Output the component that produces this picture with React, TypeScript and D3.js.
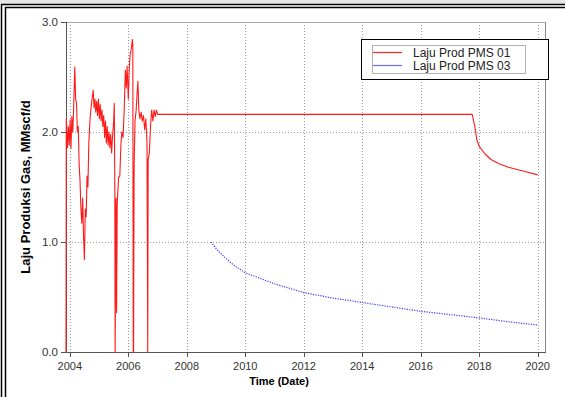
import React from 'react';
import * as d3 from 'd3';

const xTicks = [2004, 2006, 2008, 2010, 2012, 2014, 2016, 2018, 2020];
const yTicks = [0, 1, 2, 3];
const seriesNames = ['Laju Prod PMS 01', 'Laju Prod PMS 03'];

const pms01Years = [
  2003.87, 2003.88, 2003.92, 2003.95, 2003.98, 2004.01, 2004.04, 2004.07, 2004.10, 2004.13,
  2004.17, 2004.20, 2004.23, 2004.26, 2004.29, 2004.32, 2004.35, 2004.38, 2004.41, 2004.44,
  2004.47, 2004.50, 2004.53, 2004.56, 2004.59, 2004.62, 2004.65, 2004.69, 2004.72, 2004.76,
  2004.80, 2004.83, 2004.86, 2004.89, 2004.92, 2004.95, 2004.98, 2005.01, 2005.04, 2005.07,
  2005.10, 2005.13, 2005.16, 2005.19, 2005.22, 2005.25, 2005.28, 2005.31, 2005.34, 2005.37,
  2005.40, 2005.43, 2005.46, 2005.50, 2005.52, 2005.54, 2005.55, 2005.58, 2005.60, 2005.62,
  2005.67, 2005.71, 2005.75, 2005.78, 2005.82, 2005.86, 2005.90, 2005.93, 2005.96, 2006.00,
  2006.03, 2006.06, 2006.10, 2006.14, 2006.155, 2006.17, 2006.18, 2006.20, 2006.23, 2006.27,
  2006.30, 2006.33, 2006.36, 2006.40, 2006.44, 2006.48, 2006.52, 2006.56, 2006.60, 2006.64,
  2006.665, 2006.68, 2006.72, 2006.76, 2006.80, 2006.84, 2006.88, 2006.92, 2006.96, 2007.00,
  2017.76, 2017.85, 2017.92, 2018.00, 2018.20, 2018.40, 2018.70, 2019.00, 2019.50, 2020.00,
];
const pms01Values = [
  0.00, 2.12, 1.86, 2.05, 1.88, 2.11, 1.85, 2.14, 2.00, 2.20,
  2.59, 2.30, 2.26, 2.00, 2.05, 1.70, 1.56, 1.30, 1.17, 1.40,
  1.05, 0.84, 1.30, 1.23, 1.60, 1.50, 1.90, 2.11, 2.20, 2.30,
  2.38, 2.22, 2.30, 2.18, 2.28, 2.15, 2.30, 2.12, 2.25, 2.10,
  2.20, 2.05, 2.15, 1.95, 2.10, 1.90, 2.05, 1.88, 2.00, 1.86,
  1.98, 1.81, 1.95, 2.10, 2.26, 1.50, 0.00, 1.40, 0.36, 1.34,
  1.59, 1.60, 1.90, 2.00, 1.95, 2.20, 2.56, 2.40, 2.60, 2.30,
  2.55, 2.70, 2.75, 2.84, 2.80, 0.00, 0.00, 1.70, 2.10, 2.20,
  2.35, 2.46, 2.20, 2.12, 2.18, 2.10, 2.15, 2.02, 2.12, 1.90,
  0.00, 1.75, 1.81, 2.05, 2.20, 2.10, 2.20, 2.14, 2.20, 2.16,
  2.16, 2.05, 1.93, 1.87, 1.80, 1.75, 1.71, 1.68, 1.645, 1.61,
];

const pms03Years = [2008.83, 2009.03, 2009.3, 2009.6, 2010, 2011, 2012, 2013, 2014, 2015, 2016, 2017, 2018, 2019, 2020];
const pms03Values = [1.0, 0.93, 0.86, 0.79, 0.72, 0.62, 0.54, 0.49, 0.45, 0.41, 0.37, 0.34, 0.31, 0.275, 0.245];

export default function App() {
  const W = 565, H = 397;
  const left = 66, right = 545, top = 22, bottom = 352;
  const x = d3.scaleLinear().domain([2003.87, 2020.25]).range([left, right]);
  const y = d3.scaleLinear().domain([0, 3]).range([bottom, top]);

  const line = d3.line<[number, number]>().x(d => x(d[0])).y(d => y(d[1]));
  const d01 = line(pms01Years.map((t, i) => [t, pms01Values[i]]) as [number, number][]) || '';
  const d03 = line(pms03Years.map((t, i) => [t, pms03Values[i]]) as [number, number][]) || '';

  const font = 'Arial, "Liberation Sans", sans-serif';

  return (
    <svg width={W} height={H} style={{ position: 'absolute', left: 0, top: 0, background: '#fff' }}>
      {/* outer frame */}
      <rect x={0} y={0} width={W} height={4} fill="#e6e6e6" />
      <line x1={1} x2={W} y1={4.5} y2={4.5} stroke="#000" strokeWidth={1.5} />
      <line x1={1.5} x2={1.5} y1={4} y2={H} stroke="#000" strokeWidth={1.5} />
      <line x1={5} x2={W} y1={7.5} y2={7.5} stroke="#000" strokeWidth={1.5} />
      <line x1={5.5} x2={5.5} y1={7} y2={H} stroke="#000" strokeWidth={1.5} />

      {/* gridlines */}
      {xTicks.map(t => (
        <line key={'gx' + t} x1={Math.round(x(t)) + 0.5} x2={Math.round(x(t)) + 0.5} y1={top} y2={bottom}
          stroke="#9a9a9a" strokeWidth={1} strokeDasharray="1,2" />
      ))}
      {yTicks.filter(v => v > 0 && v < 3).map(v => (
        <line key={'gy' + v} x1={left} x2={right} y1={Math.round(y(v)) + 0.5} y2={Math.round(y(v)) + 0.5}
          stroke="#9a9a9a" strokeWidth={1} strokeDasharray="1,2" />
      ))}

      {/* plot box */}
      <line x1={left} x2={right} y1={top + 0.5} y2={top + 0.5} stroke="#aaa" />
      <line x1={right + 0.5} x2={right + 0.5} y1={top} y2={bottom} stroke="#888" />
      <line x1={left + 0.5} x2={left + 0.5} y1={top} y2={bottom + 1} stroke="#555" />
      <line x1={left} x2={right + 1} y1={bottom + 0.5} y2={bottom + 0.5} stroke="#555" />

      {/* series */}
      <path d={d03} fill="none" stroke="#3a3aff" strokeWidth={1.2} strokeDasharray="1.2,1.3" />
      <path d={d01} fill="none" stroke="#ff1a1a" strokeWidth={1.1} strokeLinejoin="round" />

      {/* y ticks */}
      {yTicks.map(v => (
        <g key={'yt' + v}>
          <line x1={left - 5} x2={left} y1={Math.round(y(v)) + 0.5} y2={Math.round(y(v)) + 0.5} stroke="#555" />
          <text x={left - 8} y={y(v) + 4} textAnchor="end" fontFamily={font} fontSize={11.5} fill="#333">
            {v.toFixed(1)}
          </text>
        </g>
      ))}

      {/* x ticks */}
      {xTicks.map(t => (
        <g key={'xt' + t}>
          <line x1={Math.round(x(t)) + 0.5} x2={Math.round(x(t)) + 0.5} y1={bottom} y2={bottom + 5} stroke="#555" />
          <text x={x(t)} y={370} textAnchor="middle" fontFamily={font} fontSize={11} fill="#333">
            {t}
          </text>
        </g>
      ))}

      {/* axis titles */}
      <text x={279} y={385} textAnchor="middle" fontFamily={font} fontSize={11} fontWeight="bold" fill="#000">
        Time (Date)
      </text>
      <text transform={`translate(30, ${(top + bottom) / 2}) rotate(-90)`} textAnchor="middle"
        fontFamily={font} fontSize={13} fontWeight="bold" fill="#000">
        Laju Produksi Gas, MMscf/d
      </text>

      {/* legend */}
      <rect x={361.5} y={39.5} width={187} height={40} fill="#fff" stroke="#000" strokeWidth={1} />
      <rect x={372.5} y={45.5} width={153} height={28} fill="none" stroke="#666" strokeWidth={1} strokeDasharray="1,1" />
      <line x1={373} x2={402} y1={52.5} y2={52.5} stroke="#ff2020" strokeWidth={1.2} />
      <line x1={373} x2={402} y1={65.5} y2={65.5} stroke="#6a6aff" strokeWidth={1.2} />
      <text x={413} y={57} fontFamily={font} fontSize={12} fill="#222">{seriesNames[0]}</text>
      <text x={413} y={70} fontFamily={font} fontSize={12} fill="#222">{seriesNames[1]}</text>
    </svg>
  );
}
